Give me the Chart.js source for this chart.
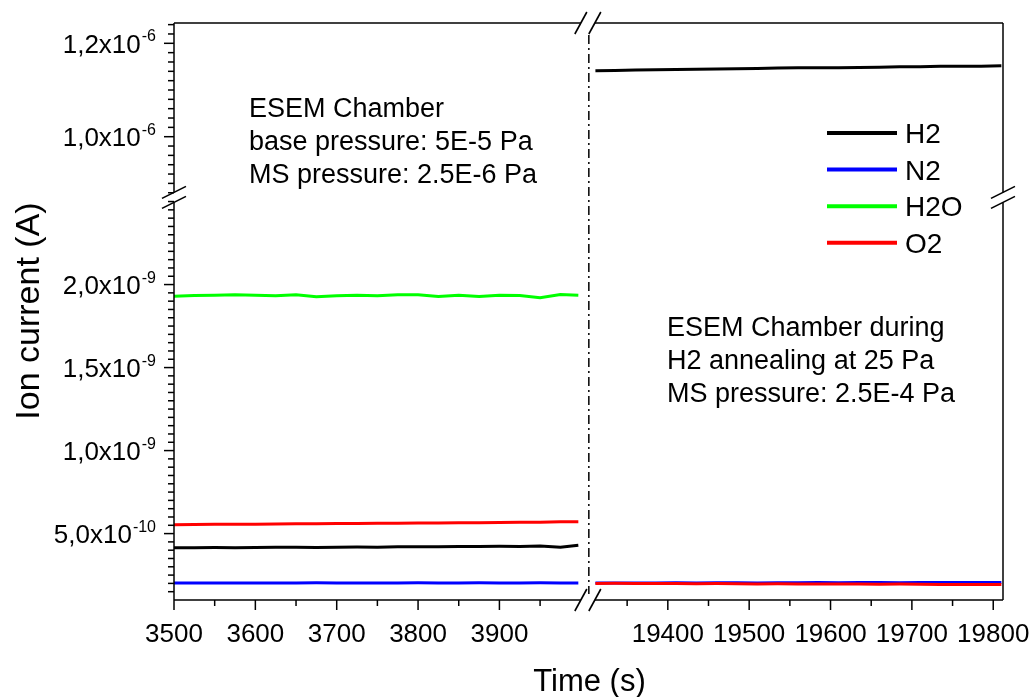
<!DOCTYPE html>
<html>
<head>
<meta charset="utf-8">
<style>
  html, body { margin: 0; padding: 0; background: #fff; }
  #wrap { width: 1034px; height: 697px; }
</style>
<script src="https://cdn.jsdelivr.net/npm/chart.js@4.4.1/dist/chart.umd.min.js"></script>
</head>
<body>
<div id="wrap"><canvas id="ionChart" width="1034" height="697"></canvas></div>
<script>
const FONT = '"Liberation Sans", Arial, sans-serif';

const seriesNames = ['H2', 'N2', 'H2O', 'O2'];
const seriesColors = ['#000000', '#0000ff', '#00ff00', '#ff0000'];

// base pressure run: time in s, currents in 1e-9 A
const timeLeft = [3500, 3525, 3550, 3575, 3600, 3625, 3650, 3675, 3700, 3725, 3750,
    3775, 3800, 3825, 3850, 3875, 3900, 3925, 3950, 3975, 3997];
const h2Left = [0.414, 0.415, 0.416, 0.415, 0.416, 0.417, 0.418, 0.416, 0.418, 0.419, 0.418,
    0.420, 0.421, 0.420, 0.422, 0.423, 0.424, 0.423, 0.425, 0.418, 0.430];
const n2Left = [0.202, 0.203, 0.202, 0.203, 0.203, 0.202, 0.203, 0.204, 0.203, 0.203, 0.202,
    0.203, 0.204, 0.203, 0.203, 0.204, 0.203, 0.203, 0.204, 0.203, 0.203];
const h2oLeft = [1.930, 1.934, 1.936, 1.938, 1.936, 1.932, 1.938, 1.926, 1.932, 1.936, 1.932,
    1.938, 1.938, 1.928, 1.936, 1.928, 1.936, 1.934, 1.920, 1.940, 1.936];
const o2Left = [0.554, 0.555, 0.556, 0.557, 0.557, 0.558, 0.559, 0.560, 0.561, 0.561, 0.562,
    0.563, 0.564, 0.564, 0.566, 0.566, 0.567, 0.568, 0.569, 0.571, 0.571];

// H2 annealing run: time in s, H2 in 1e-6 A, N2 and O2 in 1e-9 A
const timeRight = [19311, 19335, 19360, 19385, 19410, 19435, 19460, 19485, 19510, 19535, 19560,
    19585, 19610, 19635, 19660, 19685, 19710, 19735, 19760, 19785, 19810];
const h2Right = [1.1414, 1.1420, 1.1428, 1.1432, 1.1440, 1.1446, 1.1450, 1.1457, 1.1462, 1.1470, 1.1478,
    1.1476, 1.1475, 1.1482, 1.1490, 1.1496, 1.1500, 1.1507, 1.1507, 1.1510, 1.1520];
const n2Right = [0.203, 0.202, 0.203, 0.203, 0.204, 0.203, 0.204, 0.204, 0.203, 0.204, 0.204,
    0.205, 0.204, 0.205, 0.205, 0.204, 0.205, 0.205, 0.206, 0.205, 0.206];
const o2Right = [0.200, 0.201, 0.200, 0.199, 0.199, 0.198, 0.199, 0.198, 0.197, 0.198, 0.197,
    0.196, 0.197, 0.196, 0.195, 0.196, 0.195, 0.194, 0.194, 0.193, 0.193];

const xLeftTicks = [3500, 3600, 3700, 3800, 3900];
const xRightTicks = [19400, 19500, 19600, 19700, 19800];
const yLowTicks = [5e-10, 1e-9, 1.5e-9, 2e-9];
const yHighTicks = [1e-6, 1.2e-6];
const xMinorStep = 50;
const yLowMinorStep = 0.05e-9;
const yHighMinorStep = 0.02e-6;

const leftNote = ['ESEM Chamber', 'base pressure: 5E-5 Pa', 'MS pressure: 2.5E-6 Pa'];
const rightNote = ['ESEM Chamber during', 'H2 annealing at 25 Pa', 'MS pressure: 2.5E-4 Pa'];

const pts = (xs, ys, unit) => xs.map((x, i) => ({ x, y: ys[i] * unit }));
const line = (idx, data, xAxisID, yAxisID) => ({
    label: seriesNames[idx], data, xAxisID, yAxisID,
    borderColor: seriesColors[idx], borderWidth: 3, pointRadius: 0, tension: 0, fill: false,
});

function seg(ctx, x1, y1, x2, y2) {
    ctx.beginPath();
    ctx.moveTo(x1, y1);
    ctx.lineTo(x2, y2);
    ctx.stroke();
}

function expLabel(v) {
    const [m, e] = v.toExponential(1).split('e');
    return { main: m.replace('.', ',') + 'x10', sup: String(Number(e)) };
}

const brokenFrame = {
    id: 'brokenFrame',
    afterDatasetsDraw(chart) {
        const { ctx, chartArea: a } = chart;
        const { xL, xR, yB, yT } = chart.scales;
        const bx = xL.right + 3;   // horizontal break
        const by = yT.bottom;      // vertical break

        ctx.save();
        ctx.strokeStyle = '#000';
        ctx.fillStyle = '#000';
        ctx.lineWidth = 1.5;

        // frame with gaps at the breaks
        seg(ctx, a.left, a.bottom, bx - 7, a.bottom);
        seg(ctx, bx + 7, a.bottom, a.right, a.bottom);
        seg(ctx, a.left, a.top, bx - 7, a.top);
        seg(ctx, bx + 7, a.top, a.right, a.top);
        [a.left, a.right].forEach((x) => {
            seg(ctx, x, a.top, x, by - 5);
            seg(ctx, x, by + 5, x, a.bottom);
        });

        // break slashes
        ctx.lineWidth = 1.6;
        [a.top, a.bottom].forEach((y) => {
            [-7, 7].forEach((d) => seg(ctx, bx + d - 6, y + 11, bx + d + 6, y - 11));
        });
        [a.left, a.right].forEach((x) => {
            [-5, 5].forEach((d) => seg(ctx, x - 12, by + d + 6, x + 12, by + d - 6));
        });

        // dash-dot separator
        ctx.lineWidth = 1.5;
        ctx.setLineDash([9, 4, 2, 4]);
        seg(ctx, bx + 1, a.top + 12, bx + 1, a.bottom - 6);
        ctx.setLineDash([]);

        // x ticks
        ctx.lineWidth = 1.5;
        ctx.font = '26px ' + FONT;
        ctx.textAlign = 'center';
        ctx.textBaseline = 'alphabetic';
        [[xL, xLeftTicks], [xR, xRightTicks]].forEach(([scale, majors]) => {
            const n0 = Math.ceil(scale.min / xMinorStep);
            const n1 = Math.floor(scale.max / xMinorStep);
            for (let k = n0; k <= n1; k++) {
                const t = k * xMinorStep;
                const px = scale.getPixelForValue(t);
                if (Math.abs(px - bx) < 12) continue;
                const major = majors.includes(t);
                seg(ctx, px, a.bottom, px, a.bottom + (major ? 10 : 6));
                if (major) ctx.fillText(String(t), px, a.bottom + 41.5);
            }
        });

        // y ticks
        [[yB, yLowMinorStep, yLowTicks, by + 4, a.bottom - 1],
         [yT, yHighMinorStep, yHighTicks, a.top, by - 4]].forEach(([scale, step, majors, lo, hi]) => {
            const n0 = Math.ceil(scale.min / step - 1e-6);
            const n1 = Math.floor(scale.max / step + 1e-6);
            for (let k = n0; k <= n1; k++) {
                const v = k * step;
                const py = scale.getPixelForValue(v);
                if (py < lo || py > hi) continue;
                const major = majors.some((m) => Math.abs(m - v) < step / 10);
                seg(ctx, a.left - (major ? 10 : 6), py, a.left, py);
                if (!major) continue;
                const lab = expLabel(v);
                const right = a.left - 18;
                ctx.textAlign = 'right';
                ctx.font = '16px ' + FONT;
                const sw = ctx.measureText(lab.sup).width;
                ctx.fillText(lab.sup, right, py - 2);
                ctx.font = '26px ' + FONT;
                ctx.fillText(lab.main, right - sw - 1, py + 9.5);
            }
        });

        // axis titles
        ctx.textAlign = 'center';
        ctx.font = '31px ' + FONT;
        ctx.fillText('Time (s)', (a.left + a.right) / 2 + 1, 691);
        ctx.save();
        ctx.translate(38.5, 311);
        ctx.rotate(-Math.PI / 2);
        ctx.font = '34px ' + FONT;
        ctx.fillText('Ion current (A)', 0, 0);
        ctx.restore();

        // notes
        ctx.textAlign = 'left';
        ctx.font = '27px ' + FONT;
        leftNote.forEach((s, i) => ctx.fillText(s, a.left + 75, a.top + 93.5 + i * 33.3));
        rightNote.forEach((s, i) => ctx.fillText(s, xR.getPixelForValue(19399), 335.5 + i * 33.3));

        // legend
        ctx.font = '28px ' + FONT;
        seriesNames.forEach((name, i) => {
            const y = a.top + 110 + i * 36.6;
            ctx.strokeStyle = seriesColors[i];
            ctx.lineWidth = 4;
            seg(ctx, a.right - 176, y, a.right - 106, y);
            ctx.fillText(name, a.right - 98, y + 10);
        });

        ctx.restore();
    },
};

const hiddenAxis = { grid: { display: false }, border: { display: false }, ticks: { display: false } };

new Chart(document.getElementById('ionChart'), {
    type: 'line',
    data: {
        datasets: [
            line(3, pts(timeLeft, o2Left, 1e-9), 'xL', 'yB'),
            line(3, pts(timeRight, o2Right, 1e-9), 'xR', 'yB'),
            line(2, pts(timeLeft, h2oLeft, 1e-9), 'xL', 'yB'),
            line(1, pts(timeLeft, n2Left, 1e-9), 'xL', 'yB'),
            line(1, pts(timeRight, n2Right, 1e-9), 'xR', 'yB'),
            line(0, pts(timeLeft, h2Left, 1e-9), 'xL', 'yB'),
            line(0, pts(timeRight, h2Right, 1e-6), 'xR', 'yT'),
        ],
    },
    options: {
        responsive: false,
        animation: false,
        layout: { padding: { top: 23, right: 31, bottom: 0, left: 0 } },
        plugins: { legend: { display: false }, tooltip: { enabled: false } },
        scales: {
            xL: { type: 'linear', position: 'bottom', stack: 'time', stackWeight: 505, min: 3500, max: 4005,
                ...hiddenAxis, afterFit: (s) => { s.height = 97; } },
            xR: { type: 'linear', position: 'bottom', stack: 'time', stackWeight: 514, min: 19298, max: 19812,
                ...hiddenAxis, afterFit: (s) => { s.height = 97; } },
            yB: { type: 'linear', position: 'left', stack: 'current', stackWeight: 402.6, min: 1e-10, max: 2.525e-9,
                ...hiddenAxis, afterFit: (s) => { s.width = 174; } },
            yT: { type: 'linear', position: 'left', stack: 'current', stackWeight: 174.4, min: 0.87e-6, max: 1.2435e-6,
                ...hiddenAxis, afterFit: (s) => { s.width = 174; } },
        },
    },
    plugins: [brokenFrame],
});
</script>
</body>
</html>
